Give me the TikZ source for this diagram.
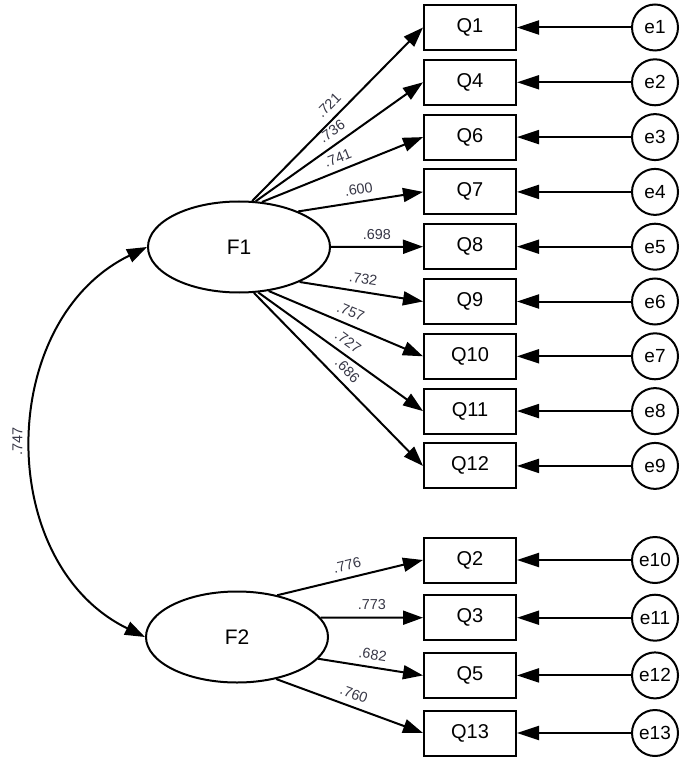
\documentclass[tikz,border=0pt]{standalone}
\usepackage{fontspec}
\setmainfont{Liberation Sans}
\usepackage{xcolor}
\usetikzlibrary{
    arrows.meta,
    shapes,
    positioning
}
\definecolor{loadgray}{RGB}{55,55,70}
\newcommand{\loading}[1]{\textcolor{loadgray}{\fontsize{7.2}{8}\selectfont #1}}

\begin{document}
\begin{tikzpicture}[x=0.5pt, y=0.5pt, line width=1pt,
    factor/.style={draw, ellipse, minimum width=91pt, minimum height=45.5pt, font=\fontsize{10.5}{12}\selectfont},
    item/.style={draw, rectangle, minimum width=46pt, minimum height=22.5pt, font=\fontsize{10}{12}\selectfont},
    err/.style={draw, circle, minimum size=23pt, inner sep=0pt, font=\fontsize{9.5}{11}\selectfont},
    loadarrow/.style={-{Triangle[length=10pt, width=7pt]}, sloped, above=1.5pt},
    errarrow/.style={-{Triangle[length=11pt, width=7pt]}},
    covarrow/.style={{Triangle[length=10pt, width=7pt]}-{Triangle[length=10pt, width=7pt]}}
    ]
                    \useasboundingbox (0, 0) rectangle (685, -764);

                    % factors
                    \node[factor] (F1) at (239, -247) {F1};
                    \node[factor] (F2) at (237, -637) {F2};

                    % items of F1
                    \node[item] (Q1) at (470, -27.5) {Q1};
                    \node[item] (Q4) at (470, -82.3) {Q4};
                    \node[item] (Q6) at (470, -137.1) {Q6};
                    \node[item] (Q7) at (470, -191.9) {Q7};
                    \node[item] (Q8) at (470, -246.7) {Q8};
                    \node[item] (Q9) at (470, -301.5) {Q9};
                    \node[item] (Q10) at (470, -356.3) {Q10};
                    \node[item] (Q11) at (470, -411.1) {Q11};
                    \node[item] (Q12) at (470, -465.9) {Q12};

                    % items of F2
                    \node[item] (Q2) at (470, -560) {Q2};
                    \node[item] (Q3) at (470, -617.7) {Q3};
                    \node[item] (Q5) at (470, -675.4) {Q5};
                    \node[item] (Q13) at (470, -733) {Q13};

                    % errors
                    \node[err] (e1) at (655, -27.5) {e1};
                    \node[err] (e2) at (655, -82.3) {e2};
                    \node[err] (e3) at (655, -137.1) {e3};
                    \node[err] (e4) at (655, -191.9) {e4};
                    \node[err] (e5) at (655, -246.7) {e5};
                    \node[err] (e6) at (655, -301.5) {e6};
                    \node[err] (e7) at (655, -356.3) {e7};
                    \node[err] (e8) at (655, -411.1) {e8};
                    \node[err] (e9) at (655, -465.9) {e9};
                    \node[err] (e10) at (655, -560) {e10};
                    \node[err] (e11) at (655, -617.7) {e11};
                    \node[err] (e12) at (655, -675.4) {e12};
                    \node[err] (e13) at (655, -733) {e13};

                    \draw
                    (F1.74) edge[loadarrow] node{\loading{.721}} (Q1.west)
                    (F1.70) edge[loadarrow] node{\loading{.736}} (Q4.west)
                    (F1.63) edge[loadarrow] node{\loading{.741}} (Q6.west)
                    (F1.31) edge[loadarrow] node{\loading{.600}} (Q7.west)
                    (F1.0) edge[loadarrow] node{\loading{.698}} (Q8.west)
                    (F1.-30) edge[loadarrow] node{\loading{.732}} (Q9.west)
                    (F1.-56) edge[loadarrow] node{\loading{.757}} (Q10.west)
                    (F1.-67) edge[loadarrow] node{\loading{.727}} (Q11.west)
                    (F1.-72) edge[loadarrow] node{\loading{.686}} (Q12.west);

                    \draw
                    (F2.46) edge[loadarrow] node{\loading{.776}} (Q2.west)
                    (F2.13) edge[loadarrow] node{\loading{.773}} (Q3.west)
                    (F2.-15) edge[loadarrow] node{\loading{.682}} (Q5.west)
                    (F2.-47) edge[loadarrow] node{\loading{.760}} (Q13.west);

                    \draw
                    (e1) edge[errarrow] (Q1.east)
                    (e2) edge[errarrow] (Q4.east)
                    (e3) edge[errarrow] (Q6.east)
                    (e4) edge[errarrow] (Q7.east)
                    (e5) edge[errarrow] (Q8.east)
                    (e6) edge[errarrow] (Q9.east)
                    (e7) edge[errarrow] (Q10.east)
                    (e8) edge[errarrow] (Q11.east)
                    (e9) edge[errarrow] (Q12.east)
                    (e10) edge[errarrow] (Q2.east)
                    (e11) edge[errarrow] (Q3.east)
                    (e12) edge[errarrow] (Q5.east)
                    (e13) edge[errarrow] (Q13.east);

                    \draw[covarrow] (F2.west) to[out=154, in=206, looseness=1.1]
                        node[sloped, above=1.4pt] {\loading{.747}} (F1.west);
                \end{tikzpicture}
\end{document}
